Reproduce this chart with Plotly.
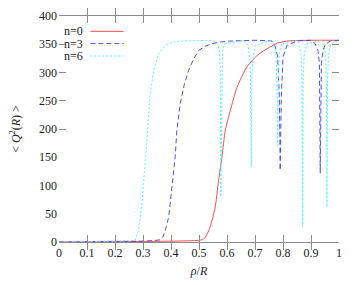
import plotly.graph_objects as go

# n=0 (red, solid)
rho0 = [0.0, 0.1, 0.2, 0.3, 0.4, 0.45, 0.48, 0.50, 0.516, 0.528,
        0.540, 0.549, 0.558, 0.570, 0.582, 0.594, 0.612, 0.636, 0.671, 0.707,
        0.743, 0.779, 0.82, 0.9, 1.0]
q0 = [0, 0.3, 0.6, 1, 1.5, 2, 2.5, 3, 5, 13,
      27, 43, 62, 109, 151, 198, 233, 274, 310, 330,
      342, 352, 356, 357, 357]

# n=3 (blue, dashed)
rho3 = [0.0, 0.1, 0.2, 0.3, 0.34, 0.362, 0.372, 0.380, 0.392, 0.403,
        0.415, 0.421, 0.433, 0.448, 0.463, 0.481, 0.499, 0.52, 0.545, 0.576,
        0.62, 0.70, 0.76,
        0.773, 0.781, 0.787, 0.790, 0.794, 0.800, 0.814,
        0.85, 0.90, 0.915, 0.925, 0.930, 0.933, 0.937, 0.943, 0.951, 0.97, 1.0]
q3 = [0, 0.3, 0.8, 1.5, 2.5, 4, 10, 21, 45, 92,
      151, 198, 245, 280, 304, 324, 339, 346, 351, 354,
      356, 357, 356,
      345, 327, 257, 127, 257, 327, 348,
      356, 357, 351, 339, 316, 122, 316, 339, 350, 356, 357]

# n=6 (cyan, dotted)
rho6 = [0.0, 0.1, 0.2, 0.25, 0.26, 0.273, 0.284, 0.296, 0.308, 0.317,
        0.324, 0.338, 0.356, 0.380, 0.409, 0.45, 0.55,
        0.566, 0.573, 0.576, 0.578, 0.581, 0.584, 0.592,
        0.66,
        0.675, 0.681, 0.684, 0.687, 0.689, 0.693, 0.701,
        0.76,
        0.767, 0.775, 0.778, 0.781, 0.783, 0.787, 0.795,
        0.85,
        0.856, 0.864, 0.868, 0.870, 0.872, 0.876, 0.886,
        0.94,
        0.945, 0.952, 0.955, 0.957, 0.959, 0.963, 0.971,
        1.0]
q6 = [0, 0.3, 1, 1.5, 2, 4, 21, 68, 139, 198,
      257, 304, 333, 348, 354, 356, 357,
      351, 339, 304, 80, 304, 339, 351,
      357,
      348, 327, 290, 133, 290, 327, 348,
      357,
      351, 333, 286, 171, 286, 333, 351,
      357,
      351, 333, 286, 27, 286, 333, 351,
      357,
      351, 333, 286, 62, 286, 333, 351,
      357]

series = [
    ("n=0", rho0, q0, "#ff3a3a", "solid", "spline"),
    ("n=3", rho3, q3, "#3a3aff", "5px,3px", "linear"),
    ("n=6", rho6, q6, "#40f4ff", "2px,2px", "linear"),
]

FONT = "Liberation Serif, Times New Roman, serif"
AX = "#8a8a8a"

fig = go.Figure()
for name, x, y, col, dash, shape in series:
    fig.add_trace(go.Scatter(x=x, y=y, mode="lines", name=name,
                             line=dict(color=col, width=0.9, dash=dash,
                                       shape=shape, smoothing=0.6),
                             showlegend=False))

# legend drawn gnuplot-style: text then sample
leg_y = [0.932, 0.878, 0.823]
for (name, x, y, col, dash, shape), ly in zip(series, leg_y):
    fig.add_annotation(x=0.094, y=ly, xref="paper", yref="paper", text=name,
                       showarrow=False, xanchor="right", yanchor="middle",
                       font=dict(family=FONT, size=12, color="#222"))
    fig.add_shape(type="line", xref="paper", yref="paper",
                  x0=0.112, x1=0.231, y0=ly, y1=ly,
                  line=dict(color=col, width=0.9, dash=dash))

# the page body has an 8px default margin, so the figure is made 8px smaller
fig.update_layout(
    width=346, height=277,
    margin=dict(l=51, r=15, t=8, b=43),
    paper_bgcolor="white", plot_bgcolor="white",
    font=dict(family=FONT, size=12, color="#222"),
    xaxis=dict(range=[0, 1], dtick=0.1, tick0=0, showgrid=False, zeroline=False,
               showline=True, linecolor=AX, linewidth=1, mirror="allticks",
               ticks="inside", ticklen=7, tickcolor=AX, automargin=False,
               title=dict(text="<i>ρ</i>/<i>R</i>", standoff=7,
                          font=dict(size=12))),
    yaxis=dict(range=[0, 400], dtick=50, tick0=0, showgrid=False, zeroline=False,
               showline=False, ticks="", ticklabelstandoff=1, automargin=False,
               title=dict(text="&lt; <i>Q</i><sup>2</sup>(<i>R</i>) &gt;",
                          standoff=18, font=dict(size=12))),
    yaxis2=dict(range=[0, 400], overlaying="y", side="left",
                tickvals=[200, 250, 300, 350, 400], showticklabels=False,
                showgrid=False, zeroline=False, showline=False, automargin=False,
                ticks="inside", ticklen=7, tickcolor=AX, mirror="ticks"),
)
# invisible trace to activate yaxis2
fig.add_trace(go.Scatter(x=[0], y=[0], yaxis="y2", mode="markers",
                         marker=dict(opacity=0), showlegend=False,
                         hoverinfo="skip"))

fig.write_html("out.html")
